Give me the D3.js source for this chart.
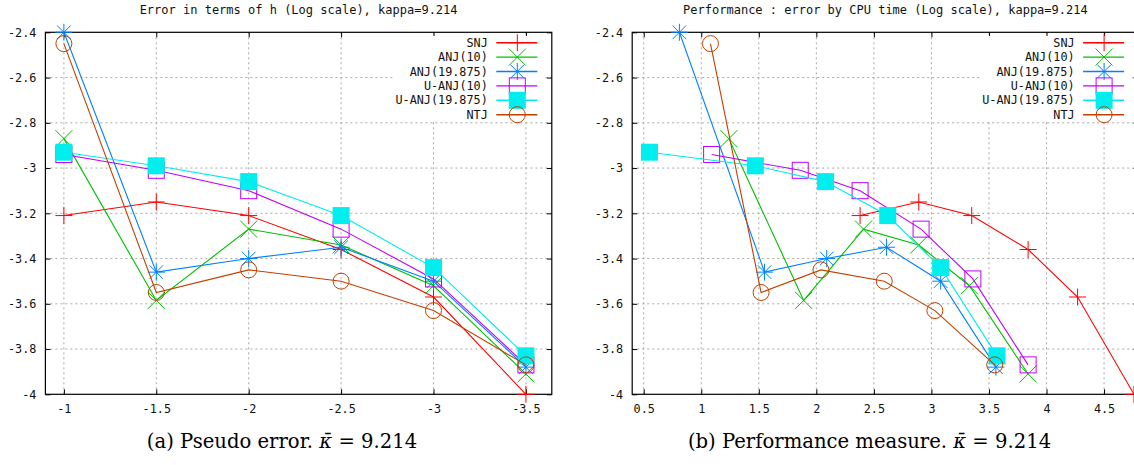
<!DOCTYPE html>
<html>
<head>
<meta charset="utf-8">
<script src="https://cdn.jsdelivr.net/npm/d3@7"></script>
<style>
  html, body { margin: 0; padding: 0; background: #fff; }
  svg { display: block; }
  .mono { font-family: "DejaVu Sans Mono", monospace; fill: #111; }
  .caption { font-family: "DejaVu Serif", "Liberation Serif", serif; fill: #000; }
</style>
</head>
<body>
<svg id="fig" width="1134" height="465"></svg>
<script>
// ---- data ---------------------------------------------------------------
const seriesNames = ["SNJ", "ANJ(10)", "ANJ(19.875)", "U-ANJ(10)", "U-ANJ(19.875)", "NTJ"];

// log10(h) for each refinement level
const logH = [-1, -1.5, -2, -2.5, -3, -3.5];

// log10(error) per method
const errSNJ    = [-3.21, -3.15, -3.21, -3.36, -3.57, -4.00];
const errANJ10  = [-2.87, -3.585, -3.27, -3.34, -3.52, -3.91];
const errANJ19  = [-2.40, -3.46, -3.40, -3.35, -3.50, -3.88];
const errUANJ10 = [-2.94, -3.01, -3.10, -3.27, -3.49, -3.87];
const errUANJ19 = [-2.93, -2.99, -3.06, -3.21, -3.44, -3.83];
const errNTJ    = [-2.45, -3.55, -3.45, -3.50, -3.63, -3.87];

// log10(CPU time) per method
const cpuSNJ    = [2.38, 2.89, 3.35, 3.84, 4.27, 4.76];
const cpuANJ10  = [1.24, 1.89, 2.41, 2.89, 3.33, 3.84];
const cpuANJ19  = [0.81, 1.55, 2.09, 2.61, 3.08, 3.56];
const cpuUANJ10 = [1.09, 1.86, 2.38, 2.91, 3.36, 3.84];
const cpuUANJ19 = [0.55, 1.47, 2.08, 2.62, 3.08, 3.57];
const cpuNTJ    = [1.08, 1.52, 2.04, 2.59, 3.03, 3.55];

// axis ticks
const xTicksA = [-1, -1.5, -2, -2.5, -3, -3.5];
const xTicksB = [0.5, 1, 1.5, 2, 2.5, 3, 3.5, 4, 4.5];
const yTicks  = [-2.4, -2.6, -2.8, -3, -3.2, -3.4, -3.6, -3.8, -4];

const titleA = "Error in terms of h (Log scale), kappa=9.214";
const titleB = "Performance : error by CPU time (Log scale), kappa=9.214";

// ---- styles -------------------------------------------------------------
const colors  = ["#ff0000", "#00c000", "#0080ff", "#c000ff", "#00eeee", "#c04000"];
const markers = ["plus", "cross", "star", "square", "fsquare", "circle"];

const errs = [errSNJ, errANJ10, errANJ19, errUANJ10, errUANJ19, errNTJ];
const cpus = [cpuSNJ, cpuANJ10, cpuANJ19, cpuUANJ10, cpuUANJ19, cpuNTJ];

const svg = d3.select("#fig");

function drawMarker(g, type, x, y, color) {
  const s = 8.5;
  const p = g.append("g").attr("transform", `translate(${x},${y})`)
    .attr("stroke", color).attr("stroke-width", 1).attr("fill", "none");
  if (type === "plus" || type === "star") {
    p.append("line").attr("x1", -s).attr("x2", s).attr("y1", 0).attr("y2", 0);
    p.append("line").attr("x1", 0).attr("x2", 0).attr("y1", -s).attr("y2", s);
  }
  if (type === "cross" || type === "star") {
    const c = type === "star" ? s * 0.8 : s;
    p.append("line").attr("x1", -c).attr("x2", c).attr("y1", -c).attr("y2", c);
    p.append("line").attr("x1", -c).attr("x2", c).attr("y1", c).attr("y2", -c);
  }
  if (type === "square") {
    p.append("rect").attr("x", -s + 0.5).attr("y", -s + 0.5)
      .attr("width", 2 * s - 1).attr("height", 2 * s - 1);
  }
  if (type === "fsquare") {
    p.append("rect").attr("x", -s).attr("y", -s)
      .attr("width", 2 * s).attr("height", 2 * s)
      .attr("fill", color).attr("stroke", "none");
  }
  if (type === "circle") {
    p.append("circle").attr("r", s - 0.5);
  }
}

function panel(opts) {
  const { left, right, top, bottom, xDomain, xTicks, title, xsData } = opts;
  const x = d3.scaleLinear().domain(xDomain).range([left, right]);
  const y = d3.scaleLinear().domain([-4, -2.4]).range([bottom, top]);
  const g = svg.append("g");

  // grid
  const grid = g.append("g").attr("stroke", "#a8a8a8").attr("stroke-width", 1)
    .attr("stroke-dasharray", "2,3");
  grid.selectAll("line.gx").data(xTicks).join("line")
    .attr("x1", d => x(d)).attr("x2", d => x(d))
    .attr("y1", top).attr("y2", bottom);
  grid.selectAll("line.gy").data(yTicks.filter(v => v !== -2.4 && v !== -4)).join("line")
    .attr("x1", left).attr("x2", right)
    .attr("y1", d => y(d)).attr("y2", d => y(d));

  // axes with inward ticks on all four sides
  const fmt = v => String(v);
  const axL = g.append("g").attr("class", "mono").attr("transform", `translate(${left},0)`)
    .call(d3.axisLeft(y).tickValues(yTicks).tickFormat(fmt).tickSizeInner(-5).tickSizeOuter(0).tickPadding(9));
  const axB = g.append("g").attr("class", "mono").attr("transform", `translate(0,${bottom})`)
    .call(d3.axisBottom(x).tickValues(xTicks).tickFormat(fmt).tickSizeInner(-5).tickSizeOuter(0).tickPadding(10));
  const axT = g.append("g").attr("transform", `translate(0,${top})`)
    .call(d3.axisTop(x).tickValues(xTicks).tickFormat("").tickSizeInner(-5).tickSizeOuter(0));
  const axR = g.append("g").attr("transform", `translate(${right},0)`)
    .call(d3.axisRight(y).tickValues(yTicks).tickFormat("").tickSizeInner(-5).tickSizeOuter(0));
  [axL, axB, axT, axR].forEach(a => {
    a.select(".domain").remove();
    a.selectAll("line").attr("stroke", "#000");
    a.selectAll("text").attr("font-family", "DejaVu Sans Mono, monospace")
      .attr("font-size", 11.8).attr("fill", "#111");
  });

  // border
  g.append("rect").attr("x", left).attr("y", top)
    .attr("width", right - left).attr("height", bottom - top)
    .attr("fill", "none").attr("stroke", "#000").attr("stroke-width", 1.2);

  // title
  g.append("text").attr("class", "mono")
    .attr("x", (left + right) / 2).attr("y", 14)
    .attr("text-anchor", "middle").attr("font-size", 12).text(title);

  // series
  const clipId = "clip" + Math.round(left);
  g.append("clipPath").attr("id", clipId).append("rect")
    .attr("x", left).attr("y", top).attr("width", right - left).attr("height", bottom - top);
  const line = d3.line().x(d => x(d[0])).y(d => y(d[1]));
  seriesNames.forEach((name, i) => {
    const pts = xsData[i].map((xv, k) => [xv, errs[i][k]]);
    g.append("path").datum(pts).attr("d", line)
      .attr("fill", "none").attr("stroke", colors[i]).attr("stroke-width", 1.1)
      .attr("clip-path", `url(#${clipId})`);
    pts.forEach(p => drawMarker(g, markers[i], x(p[0]), y(p[1]), colors[i]));
  });

  // key (opaque)
  const keyTextRight = right - 64;
  g.append("rect").attr("x", keyTextRight - 95).attr("y", 36)
    .attr("width", 152).attr("height", 85).attr("fill", "#fff");
  seriesNames.forEach((name, i) => {
    const ky = 42.7 + i * 14.4;
    g.append("text").attr("class", "mono")
      .attr("x", keyTextRight).attr("y", ky).attr("dy", "0.35em")
      .attr("text-anchor", "end").attr("font-size", 11.8).text(name);
    g.append("line").attr("x1", keyTextRight + 8.5).attr("x2", keyTextRight + 49.5)
      .attr("y1", ky).attr("y2", ky)
      .attr("stroke", colors[i]).attr("stroke-width", 1.4);
    drawMarker(g, markers[i], keyTextRight + 29.5, ky, colors[i]);
  });
  return { x, y };
}

panel({ left: 45.4, right: 551.8, top: 32.3, bottom: 394.3,
        xDomain: [-0.9, -3.64], xTicks: xTicksA, title: titleA, xsData: [logH, logH, logH, logH, logH, logH] });
panel({ left: 632.2, right: 1138.6, top: 32.3, bottom: 394.3,
        xDomain: [0.4, 4.8], xTicks: xTicksB, title: titleB, xsData: cpus });

// sub-captions
function caption(cx, label, text) {
  const t = svg.append("text").attr("class", "caption")
    .attr("x", cx).attr("y", 448).attr("text-anchor", "middle").attr("font-size", 19.6);
  t.append("tspan").text(`(${label}) ${text} `);
  t.append("tspan").attr("font-style", "italic").text("\u03BA\u0304");
  t.append("tspan").text(" = 9.214");
}
caption(282, "a", "Pseudo error.");
caption(869.5, "b", "Performance measure.");
</script>
</body>
</html>
